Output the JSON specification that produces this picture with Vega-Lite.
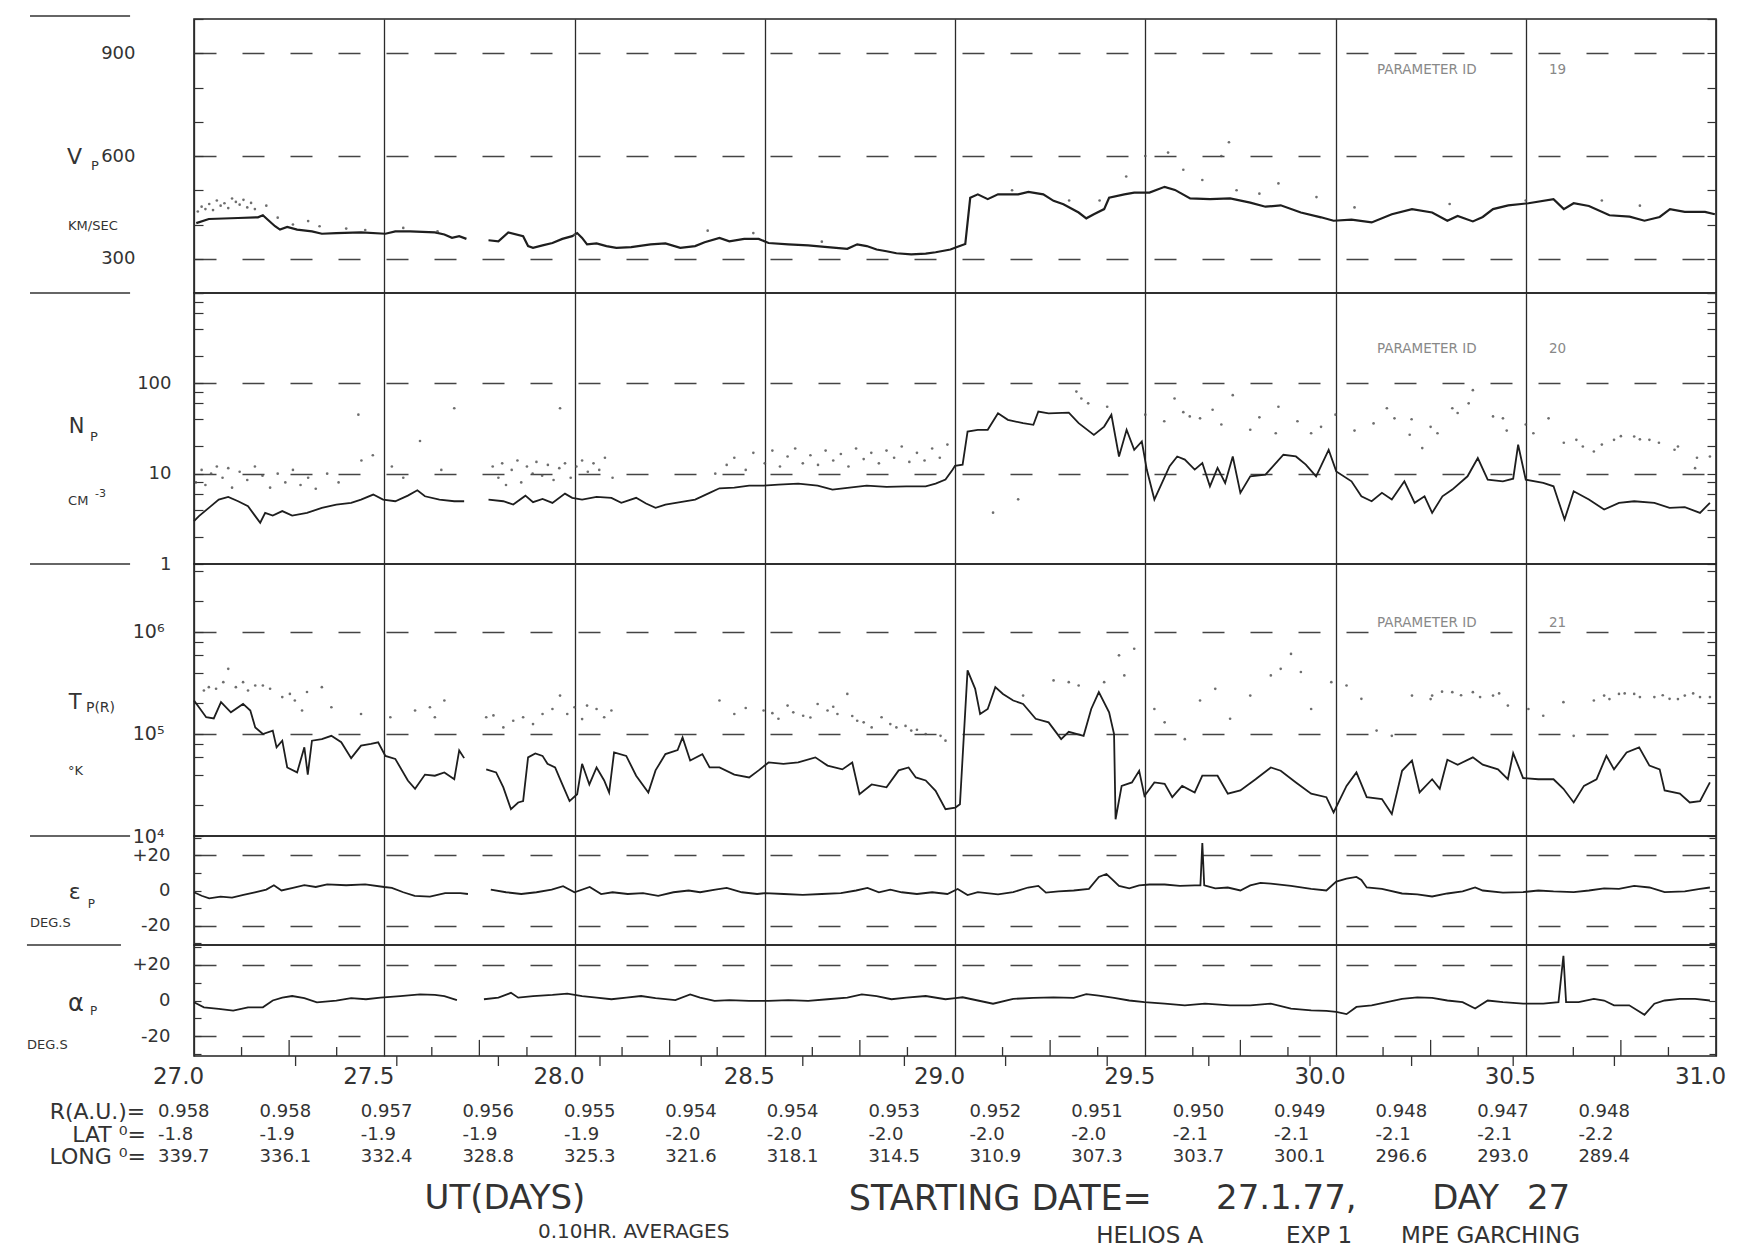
{
"$schema": "https://vega.github.io/schema/vega-lite/v6.json",
"padding": {"left": 25, "top": 9, "right": 0, "bottom": 0},
"background": "white",
"spacing": 0,
"bounds": "flush",
"datasets": {
"vp_line": [{"d":27.006,"v":404},{"d":27.039,"v":416},{"d":27.116,"v":419},{"d":27.168,"v":421},{"d":27.181,"v":427},{"d":27.194,"v":414},{"d":27.213,"v":395},{"d":27.226,"v":385},{"d":27.245,"v":393},{"d":27.271,"v":385},{"d":27.31,"v":380},{"d":27.336,"v":373},{"d":27.374,"v":375},{"d":27.439,"v":377},{"d":27.503,"v":373},{"d":27.529,"v":380},{"d":27.568,"v":380},{"d":27.633,"v":377},{"d":27.658,"v":371},{"d":27.678,"v":361},{"d":27.697,"v":366},{"d":27.716,"v":358},{"d":27.745,"v":null},{"d":27.774,"v":354},{"d":27.8,"v":351},{"d":27.826,"v":377},{"d":27.865,"v":366},{"d":27.878,"v":337},{"d":27.891,"v":332},{"d":27.916,"v":339},{"d":27.942,"v":346},{"d":27.968,"v":358},{"d":27.994,"v":366},{"d":28.007,"v":375},{"d":28.02,"v":361},{"d":28.033,"v":342},{"d":28.058,"v":345},{"d":28.084,"v":337},{"d":28.11,"v":332},{"d":28.149,"v":334},{"d":28.2,"v":342},{"d":28.239,"v":345},{"d":28.278,"v":332},{"d":28.317,"v":337},{"d":28.342,"v":348},{"d":28.381,"v":361},{"d":28.407,"v":351},{"d":28.446,"v":358},{"d":28.484,"v":358},{"d":28.51,"v":346},{"d":28.562,"v":342},{"d":28.614,"v":339},{"d":28.665,"v":334},{"d":28.717,"v":329},{"d":28.743,"v":342},{"d":28.768,"v":337},{"d":28.794,"v":327},{"d":28.82,"v":322},{"d":28.846,"v":316},{"d":28.885,"v":313},{"d":28.923,"v":315},{"d":28.949,"v":319},{"d":28.988,"v":327},{"d":29.007,"v":335},{"d":29.027,"v":343},{"d":29.04,"v":478},{"d":29.06,"v":488},{"d":29.086,"v":474},{"d":29.113,"v":488},{"d":29.166,"v":488},{"d":29.193,"v":495},{"d":29.232,"v":488},{"d":29.259,"v":469},{"d":29.285,"v":459},{"d":29.325,"v":435},{"d":29.345,"v":418},{"d":29.365,"v":430},{"d":29.392,"v":445},{"d":29.405,"v":478},{"d":29.445,"v":488},{"d":29.471,"v":493},{"d":29.511,"v":493},{"d":29.551,"v":510},{"d":29.578,"v":501},{"d":29.618,"v":476},{"d":29.67,"v":474},{"d":29.723,"v":476},{"d":29.776,"v":464},{"d":29.816,"v":452},{"d":29.856,"v":456},{"d":29.909,"v":435},{"d":29.962,"v":421},{"d":29.995,"v":411},{"d":30.042,"v":414},{"d":30.095,"v":406},{"d":30.148,"v":430},{"d":30.201,"v":445},{"d":30.254,"v":435},{"d":30.294,"v":411},{"d":30.321,"v":425},{"d":30.361,"v":409},{"d":30.387,"v":422},{"d":30.414,"v":445},{"d":30.454,"v":456},{"d":30.507,"v":462},{"d":30.573,"v":474},{"d":30.6,"v":445},{"d":30.626,"v":462},{"d":30.666,"v":454},{"d":30.72,"v":427},{"d":30.773,"v":423},{"d":30.812,"v":411},{"d":30.852,"v":422},{"d":30.879,"v":445},{"d":30.918,"v":437},{"d":30.971,"v":437},{"d":30.997,"v":430}],
"vp_dots": [{"d":27.01,"v":438},{"d":27.02,"v":452},{"d":27.03,"v":445},{"d":27.04,"v":460},{"d":27.05,"v":442},{"d":27.06,"v":470},{"d":27.07,"v":455},{"d":27.08,"v":462},{"d":27.09,"v":448},{"d":27.1,"v":476},{"d":27.11,"v":466},{"d":27.12,"v":458},{"d":27.13,"v":472},{"d":27.14,"v":450},{"d":27.15,"v":463},{"d":27.16,"v":445},{"d":27.19,"v":455},{"d":27.22,"v":420},{"d":27.26,"v":400},{"d":27.3,"v":410},{"d":27.33,"v":395},{"d":27.4,"v":388},{"d":27.45,"v":384},{"d":27.55,"v":390},{"d":27.64,"v":380},{"d":28.0,"v":370},{"d":28.35,"v":382},{"d":28.47,"v":375},{"d":28.65,"v":350},{"d":29.15,"v":500},{"d":29.3,"v":470},{"d":29.38,"v":470},{"d":29.45,"v":540},{"d":29.5,"v":600},{"d":29.56,"v":610},{"d":29.6,"v":560},{"d":29.65,"v":530},{"d":29.7,"v":600},{"d":29.72,"v":640},{"d":29.74,"v":500},{"d":29.8,"v":490},{"d":29.85,"v":520},{"d":29.95,"v":480},{"d":30.05,"v":450},{"d":30.3,"v":460},{"d":30.5,"v":470},{"d":30.7,"v":470},{"d":30.8,"v":455}],
"np_line": [{"d":27.0,"v":2.98},{"d":27.013,"v":3.39},{"d":27.039,"v":4.18},{"d":27.065,"v":5.16},{"d":27.09,"v":5.53},{"d":27.116,"v":4.95},{"d":27.142,"v":4.36},{"d":27.161,"v":3.39},{"d":27.174,"v":2.86},{"d":27.187,"v":3.68},{"d":27.207,"v":3.44},{"d":27.232,"v":3.85},{"d":27.258,"v":3.44},{"d":27.297,"v":3.68},{"d":27.336,"v":4.18},{"d":27.374,"v":4.55},{"d":27.413,"v":4.75},{"d":27.439,"v":5.16},{"d":27.471,"v":5.87},{"d":27.497,"v":5.16},{"d":27.529,"v":4.95},{"d":27.562,"v":5.71},{"d":27.587,"v":6.55},{"d":27.607,"v":5.62},{"d":27.645,"v":5.16},{"d":27.684,"v":4.95},{"d":27.71,"v":4.95},{"d":27.74,"v":null},{"d":27.774,"v":5.16},{"d":27.813,"v":4.95},{"d":27.839,"v":4.55},{"d":27.871,"v":5.71},{"d":27.891,"v":4.83},{"d":27.916,"v":5.26},{"d":27.942,"v":4.75},{"d":27.975,"v":6.01},{"d":27.994,"v":5.4},{"d":28.02,"v":5.16},{"d":28.058,"v":5.53},{"d":28.097,"v":5.4},{"d":28.123,"v":4.75},{"d":28.162,"v":5.4},{"d":28.188,"v":4.67},{"d":28.213,"v":4.18},{"d":28.239,"v":4.55},{"d":28.278,"v":4.83},{"d":28.317,"v":5.16},{"d":28.355,"v":6.12},{"d":28.381,"v":6.89},{"d":28.42,"v":7.02},{"d":28.459,"v":7.38},{"d":28.497,"v":7.38},{"d":28.536,"v":7.57},{"d":28.588,"v":7.76},{"d":28.639,"v":7.38},{"d":28.678,"v":6.67},{"d":28.717,"v":6.95},{"d":28.768,"v":7.38},{"d":28.82,"v":7.13},{"d":28.872,"v":7.25},{"d":28.923,"v":7.25},{"d":28.949,"v":7.76},{"d":28.975,"v":8.59},{"d":28.994,"v":11.1},{"d":29.0,"v":12.2},{"d":29.02,"v":12.6},{"d":29.033,"v":29.3},{"d":29.06,"v":30.6},{"d":29.086,"v":30.6},{"d":29.113,"v":46.6},{"d":29.139,"v":39.4},{"d":29.179,"v":36.2},{"d":29.206,"v":34.7},{"d":29.219,"v":48.7},{"d":29.246,"v":46.6},{"d":29.299,"v":47.4},{"d":29.325,"v":36.2},{"d":29.365,"v":26.9},{"d":29.392,"v":33.2},{"d":29.411,"v":44.8},{"d":29.431,"v":15.5},{"d":29.451,"v":30.6},{"d":29.471,"v":18.4},{"d":29.491,"v":22.7},{"d":29.504,"v":11.1},{"d":29.524,"v":5.17},{"d":29.544,"v":7.89},{"d":29.564,"v":12.1},{"d":29.584,"v":15.5},{"d":29.604,"v":14.3},{"d":29.63,"v":11.1},{"d":29.65,"v":13.1},{"d":29.67,"v":7.24},{"d":29.69,"v":11.6},{"d":29.71,"v":7.89},{"d":29.73,"v":15.5},{"d":29.75,"v":6.13},{"d":29.776,"v":9.35},{"d":29.816,"v":9.75},{"d":29.863,"v":16.2},{"d":29.896,"v":15.5},{"d":29.922,"v":12.6},{"d":29.949,"v":9.35},{"d":29.982,"v":18.4},{"d":30.002,"v":10.6},{"d":30.042,"v":8.23},{"d":30.068,"v":5.62},{"d":30.095,"v":4.95},{"d":30.122,"v":6.13},{"d":30.148,"v":5.17},{"d":30.181,"v":8.23},{"d":30.208,"v":4.75},{"d":30.234,"v":5.62},{"d":30.254,"v":3.68},{"d":30.281,"v":5.62},{"d":30.307,"v":6.67},{"d":30.347,"v":9.35},{"d":30.374,"v":14.9},{"d":30.4,"v":8.59},{"d":30.44,"v":8.23},{"d":30.467,"v":8.8},{"d":30.48,"v":20.9},{"d":30.5,"v":8.59},{"d":30.546,"v":7.89},{"d":30.573,"v":7.24},{"d":30.602,"v":3.11},{"d":30.626,"v":6.38},{"d":30.666,"v":5.17},{"d":30.706,"v":4.01},{"d":30.745,"v":4.75},{"d":30.785,"v":4.95},{"d":30.838,"v":4.75},{"d":30.878,"v":4.18},{"d":30.918,"v":4.26},{"d":30.958,"v":3.68},{"d":30.984,"v":4.75}],
"np_dots": [{"d":27.005,"v":8},{"d":27.02,"v":11},{"d":27.03,"v":7.5},{"d":27.045,"v":10},{"d":27.06,"v":12},{"d":27.075,"v":9},{"d":27.09,"v":11.5},{"d":27.1,"v":7},{"d":27.12,"v":10.5},{"d":27.14,"v":8.5},{"d":27.16,"v":12},{"d":27.18,"v":9.5},{"d":27.2,"v":7},{"d":27.22,"v":10},{"d":27.24,"v":8},{"d":27.26,"v":11},{"d":27.28,"v":7.5},{"d":27.3,"v":9},{"d":27.32,"v":6.8},{"d":27.35,"v":10},{"d":27.38,"v":8},{"d":27.432,"v":45},{"d":27.44,"v":14},{"d":27.47,"v":16},{"d":27.52,"v":12},{"d":27.55,"v":9},{"d":27.594,"v":23},{"d":27.65,"v":11},{"d":27.684,"v":53},{"d":27.785,"v":12},{"d":27.8,"v":9},{"d":27.81,"v":13},{"d":27.82,"v":7.5},{"d":27.835,"v":11},{"d":27.85,"v":14},{"d":27.86,"v":8},{"d":27.875,"v":12},{"d":27.89,"v":10},{"d":27.9,"v":13.5},{"d":27.915,"v":9.5},{"d":27.93,"v":12.5},{"d":27.945,"v":8.5},{"d":27.96,"v":11.5},{"d":27.962,"v":53},{"d":27.975,"v":13},{"d":27.99,"v":9},{"d":28.005,"v":12},{"d":28.02,"v":14},{"d":28.035,"v":10.5},{"d":28.05,"v":13},{"d":28.065,"v":11},{"d":28.08,"v":15},{"d":28.1,"v":9},{"d":28.37,"v":10},{"d":28.4,"v":12.5},{"d":28.42,"v":15},{"d":28.45,"v":11},{"d":28.47,"v":17},{"d":28.5,"v":13},{"d":28.52,"v":18},{"d":28.54,"v":12},{"d":28.56,"v":15.5},{"d":28.58,"v":19},{"d":28.6,"v":13},{"d":28.62,"v":16},{"d":28.64,"v":12.5},{"d":28.66,"v":18},{"d":28.68,"v":14},{"d":28.7,"v":16.5},{"d":28.72,"v":12},{"d":28.74,"v":19},{"d":28.76,"v":14.5},{"d":28.78,"v":17},{"d":28.8,"v":13},{"d":28.82,"v":18},{"d":28.84,"v":15},{"d":28.86,"v":20},{"d":28.88,"v":13.5},{"d":28.9,"v":17},{"d":28.92,"v":14},{"d":28.94,"v":19},{"d":28.96,"v":15},{"d":28.98,"v":21},{"d":29.1,"v":3.7},{"d":29.166,"v":5.2},{"d":29.319,"v":81},{"d":29.332,"v":68},{"d":29.35,"v":60},{"d":29.4,"v":55},{"d":29.5,"v":45},{"d":29.55,"v":38},{"d":29.577,"v":68},{"d":29.6,"v":48},{"d":29.617,"v":43},{"d":29.644,"v":41},{"d":29.677,"v":51},{"d":29.7,"v":35},{"d":29.73,"v":74},{"d":29.776,"v":30.6},{"d":29.8,"v":42},{"d":29.843,"v":28},{"d":29.85,"v":55},{"d":29.9,"v":38},{"d":29.936,"v":28},{"d":29.962,"v":33},{"d":30.0,"v":45},{"d":30.05,"v":30},{"d":30.1,"v":36},{"d":30.135,"v":53},{"d":30.155,"v":41},{"d":30.195,"v":27},{"d":30.2,"v":40},{"d":30.228,"v":19.2},{"d":30.25,"v":33},{"d":30.268,"v":28},{"d":30.307,"v":53},{"d":30.321,"v":47},{"d":30.35,"v":60},{"d":30.361,"v":84},{"d":30.414,"v":43},{"d":30.44,"v":41},{"d":30.45,"v":30},{"d":30.5,"v":35},{"d":30.52,"v":28},{"d":30.56,"v":41},{"d":30.6,"v":22},{"d":30.633,"v":23.7},{"d":30.65,"v":20},{"d":30.679,"v":17.6},{"d":30.7,"v":21},{"d":30.732,"v":23.7},{"d":30.75,"v":26},{"d":30.785,"v":25.8},{"d":30.8,"v":24},{"d":30.825,"v":23.7},{"d":30.85,"v":22},{"d":30.891,"v":18.4},{"d":30.9,"v":20},{"d":30.945,"v":11.5},{"d":30.95,"v":15},{"d":30.984,"v":15.5}],
"tp_line": [{"d":27.0,"v":2.13e5},{"d":27.013,"v":1.83e5},{"d":27.032,"v":1.46e5},{"d":27.052,"v":1.42e5},{"d":27.071,"v":2.05e5},{"d":27.097,"v":1.63e5},{"d":27.129,"v":1.97e5},{"d":27.148,"v":1.7e5},{"d":27.161,"v":1.16e5},{"d":27.181,"v":1.0e5},{"d":27.207,"v":1.08e5},{"d":27.217,"v":7.4e4},{"d":27.232,"v":8.6e4},{"d":27.245,"v":4.7e4},{"d":27.271,"v":4.2e4},{"d":27.29,"v":7.4e4},{"d":27.299,"v":4.0e4},{"d":27.31,"v":8.6e4},{"d":27.336,"v":8.9e4},{"d":27.361,"v":9.6e4},{"d":27.387,"v":8.3e4},{"d":27.413,"v":5.8e4},{"d":27.439,"v":7.7e4},{"d":27.465,"v":8.0e4},{"d":27.484,"v":8.3e4},{"d":27.503,"v":6.1e4},{"d":27.529,"v":5.7e4},{"d":27.562,"v":3.5e4},{"d":27.581,"v":2.9e4},{"d":27.607,"v":4.0e4},{"d":27.633,"v":3.9e4},{"d":27.658,"v":4.2e4},{"d":27.684,"v":3.6e4},{"d":27.697,"v":6.9e4},{"d":27.71,"v":5.8e4},{"d":27.74,"v":null},{"d":27.768,"v":4.5e4},{"d":27.794,"v":4.2e4},{"d":27.813,"v":3.0e4},{"d":27.833,"v":1.83e4},{"d":27.852,"v":2.13e4},{"d":27.865,"v":2.2e4},{"d":27.878,"v":5.9e4},{"d":27.897,"v":6.45e4},{"d":27.916,"v":6.1e4},{"d":27.929,"v":5.1e4},{"d":27.949,"v":4.7e4},{"d":27.968,"v":3.2e4},{"d":27.987,"v":2.2e4},{"d":28.007,"v":2.57e4},{"d":28.02,"v":5.1e4},{"d":28.039,"v":3.2e4},{"d":28.058,"v":4.7e4},{"d":28.078,"v":3.5e4},{"d":28.091,"v":2.67e4},{"d":28.104,"v":6.6e4},{"d":28.136,"v":6.1e4},{"d":28.162,"v":3.9e4},{"d":28.194,"v":2.67e4},{"d":28.213,"v":4.4e4},{"d":28.239,"v":6.35e4},{"d":28.271,"v":6.96e4},{"d":28.284,"v":9.27e4},{"d":28.304,"v":5.5e4},{"d":28.336,"v":6.35e4},{"d":28.355,"v":4.7e4},{"d":28.381,"v":4.7e4},{"d":28.42,"v":4.0e4},{"d":28.459,"v":3.75e4},{"d":28.484,"v":4.4e4},{"d":28.51,"v":5.26e4},{"d":28.549,"v":5.1e4},{"d":28.588,"v":5.26e4},{"d":28.633,"v":5.9e4},{"d":28.665,"v":4.9e4},{"d":28.704,"v":4.5e4},{"d":28.73,"v":5.26e4},{"d":28.749,"v":2.57e4},{"d":28.781,"v":3.2e4},{"d":28.82,"v":3.0e4},{"d":28.852,"v":4.4e4},{"d":28.878,"v":4.7e4},{"d":28.897,"v":3.75e4},{"d":28.923,"v":3.5e4},{"d":28.949,"v":2.77e4},{"d":28.975,"v":1.83e4},{"d":29.001,"v":1.9e4},{"d":29.013,"v":2.05e4},{"d":29.033,"v":4.2e5},{"d":29.053,"v":2.77e5},{"d":29.066,"v":1.57e5},{"d":29.086,"v":1.76e5},{"d":29.106,"v":2.88e5},{"d":29.126,"v":2.47e5},{"d":29.153,"v":2.13e5},{"d":29.179,"v":1.97e5},{"d":29.212,"v":1.41e5},{"d":29.246,"v":1.3e5},{"d":29.279,"v":8.9e4},{"d":29.299,"v":1.05e5},{"d":29.338,"v":9.6e4},{"d":29.358,"v":1.76e5},{"d":29.378,"v":2.57e5},{"d":29.405,"v":1.63e5},{"d":29.418,"v":1.0e5},{"d":29.422,"v":1.46e4},{"d":29.438,"v":3.1e4},{"d":29.465,"v":3.35e4},{"d":29.484,"v":4.36e4},{"d":29.498,"v":2.47e4},{"d":29.524,"v":3.35e4},{"d":29.551,"v":3.25e4},{"d":29.571,"v":2.4e4},{"d":29.597,"v":3.1e4},{"d":29.63,"v":2.67e4},{"d":29.65,"v":3.9e4},{"d":29.69,"v":3.9e4},{"d":29.717,"v":2.6e4},{"d":29.75,"v":2.8e4},{"d":29.79,"v":3.6e4},{"d":29.83,"v":4.7e4},{"d":29.856,"v":4.36e4},{"d":29.896,"v":3.35e4},{"d":29.936,"v":2.6e4},{"d":29.976,"v":2.4e4},{"d":29.995,"v":1.7e4},{"d":30.029,"v":3.1e4},{"d":30.055,"v":4.2e4},{"d":30.082,"v":2.4e4},{"d":30.122,"v":2.3e4},{"d":30.148,"v":1.64e4},{"d":30.175,"v":4.36e4},{"d":30.201,"v":5.5e4},{"d":30.221,"v":2.67e4},{"d":30.254,"v":3.6e4},{"d":30.274,"v":2.9e4},{"d":30.294,"v":5.6e4},{"d":30.321,"v":5.0e4},{"d":30.361,"v":5.9e4},{"d":30.387,"v":5.0e4},{"d":30.427,"v":4.5e4},{"d":30.453,"v":3.6e4},{"d":30.467,"v":6.5e4},{"d":30.493,"v":3.7e4},{"d":30.533,"v":3.6e4},{"d":30.573,"v":3.6e4},{"d":30.599,"v":2.9e4},{"d":30.626,"v":2.13e4},{"d":30.653,"v":3.1e4},{"d":30.686,"v":3.6e4},{"d":30.712,"v":6.1e4},{"d":30.732,"v":4.5e4},{"d":30.765,"v":6.6e4},{"d":30.798,"v":7.4e4},{"d":30.825,"v":4.9e4},{"d":30.852,"v":4.5e4},{"d":30.865,"v":2.8e4},{"d":30.905,"v":2.6e4},{"d":30.931,"v":2.13e4},{"d":30.958,"v":2.2e4},{"d":30.984,"v":3.35e4}],
"tp_dots": [{"d":27.026,"v":2.67e5},{"d":27.039,"v":2.88e5},{"d":27.058,"v":2.78e5},{"d":27.077,"v":3.22e5},{"d":27.09,"v":4.35e5},{"d":27.11,"v":2.88e5},{"d":27.129,"v":3.22e5},{"d":27.142,"v":2.67e5},{"d":27.161,"v":2.99e5},{"d":27.181,"v":2.99e5},{"d":27.2,"v":2.78e5},{"d":27.232,"v":2.3e5},{"d":27.252,"v":2.47e5},{"d":27.265,"v":2.13e5},{"d":27.284,"v":1.7e5},{"d":27.297,"v":2.58e5},{"d":27.336,"v":2.88e5},{"d":27.361,"v":1.83e5},{"d":27.439,"v":1.57e5},{"d":27.516,"v":1.46e5},{"d":27.581,"v":1.7e5},{"d":27.62,"v":1.83e5},{"d":27.633,"v":1.46e5},{"d":27.658,"v":2.13e5},{"d":27.768,"v":1.46e5},{"d":27.787,"v":1.52e5},{"d":27.813,"v":1.16e5},{"d":27.839,"v":1.35e5},{"d":27.865,"v":1.46e5},{"d":27.891,"v":1.25e5},{"d":27.916,"v":1.57e5},{"d":27.942,"v":1.76e5},{"d":27.962,"v":2.38e5},{"d":27.981,"v":1.57e5},{"d":28.0,"v":1.83e5},{"d":28.02,"v":1.4e5},{"d":28.033,"v":1.9e5},{"d":28.058,"v":1.76e5},{"d":28.078,"v":1.46e5},{"d":28.097,"v":1.7e5},{"d":28.381,"v":2.13e5},{"d":28.42,"v":1.57e5},{"d":28.45,"v":1.8e5},{"d":28.497,"v":1.7e5},{"d":28.52,"v":1.6e5},{"d":28.536,"v":1.41e5},{"d":28.56,"v":1.9e5},{"d":28.575,"v":1.63e5},{"d":28.601,"v":1.51e5},{"d":28.62,"v":1.45e5},{"d":28.639,"v":1.97e5},{"d":28.665,"v":1.7e5},{"d":28.68,"v":1.85e5},{"d":28.691,"v":1.57e5},{"d":28.717,"v":2.47e5},{"d":28.73,"v":1.5e5},{"d":28.743,"v":1.35e5},{"d":28.76,"v":1.3e5},{"d":28.781,"v":1.16e5},{"d":28.807,"v":1.46e5},{"d":28.83,"v":1.25e5},{"d":28.846,"v":1.16e5},{"d":28.87,"v":1.2e5},{"d":28.885,"v":1.08e5},{"d":28.9,"v":1.1e5},{"d":28.923,"v":1.0e5},{"d":28.962,"v":9.6e4},{"d":28.975,"v":8.6e4},{"d":29.179,"v":2.38e5},{"d":29.259,"v":3.35e5},{"d":29.299,"v":3.22e5},{"d":29.325,"v":2.99e5},{"d":29.392,"v":3.22e5},{"d":29.431,"v":5.9e5},{"d":29.445,"v":3.75e5},{"d":29.471,"v":6.85e5},{"d":29.524,"v":1.76e5},{"d":29.551,"v":1.3e5},{"d":29.604,"v":8.9e4},{"d":29.644,"v":2.13e5},{"d":29.684,"v":2.77e5},{"d":29.723,"v":1.41e5},{"d":29.776,"v":2.38e5},{"d":29.83,"v":3.75e5},{"d":29.856,"v":4.35e5},{"d":29.883,"v":6.1e5},{"d":29.909,"v":4.05e5},{"d":29.936,"v":1.76e5},{"d":29.989,"v":3.22e5},{"d":30.029,"v":2.99e5},{"d":30.068,"v":2.21e5},{"d":30.108,"v":1.08e5},{"d":30.148,"v":9.6e4},{"d":30.201,"v":2.38e5},{"d":30.25,"v":2.2e5},{"d":30.254,"v":2.38e5},{"d":30.28,"v":2.6e5},{"d":30.307,"v":2.57e5},{"d":30.33,"v":2.4e5},{"d":30.361,"v":2.57e5},{"d":30.38,"v":2.3e5},{"d":30.414,"v":2.38e5},{"d":30.43,"v":2.5e5},{"d":30.453,"v":1.9e5},{"d":30.507,"v":1.76e5},{"d":30.546,"v":1.51e5},{"d":30.599,"v":2.05e5},{"d":30.626,"v":9.6e4},{"d":30.679,"v":2.13e5},{"d":30.706,"v":2.38e5},{"d":30.72,"v":2.2e5},{"d":30.745,"v":2.47e5},{"d":30.76,"v":2.5e5},{"d":30.785,"v":2.47e5},{"d":30.8,"v":2.3e5},{"d":30.838,"v":2.3e5},{"d":30.86,"v":2.4e5},{"d":30.878,"v":2.21e5},{"d":30.9,"v":2.2e5},{"d":30.918,"v":2.38e5},{"d":30.94,"v":2.5e5},{"d":30.958,"v":2.3e5},{"d":30.984,"v":2.3e5}],
"ep_line": [{"d":27.0,"v":-1},{"d":27.02,"v":-3},{"d":27.04,"v":-4.5},{"d":27.07,"v":-3.5},{"d":27.1,"v":-4},{"d":27.13,"v":-2.5},{"d":27.16,"v":-1},{"d":27.19,"v":0.5},{"d":27.21,"v":3},{"d":27.23,"v":0},{"d":27.26,"v":1.5},{"d":27.29,"v":3},{"d":27.32,"v":2},{"d":27.35,"v":3.5},{"d":27.4,"v":3},{"d":27.45,"v":3.5},{"d":27.5,"v":2},{"d":27.52,"v":1.5},{"d":27.55,"v":-1},{"d":27.58,"v":-3},{"d":27.62,"v":-3.5},{"d":27.66,"v":-1.5},{"d":27.7,"v":-1.5},{"d":27.72,"v":-2},{"d":27.75,"v":null},{"d":27.78,"v":0.5},{"d":27.82,"v":-1},{"d":27.86,"v":-2},{"d":27.9,"v":-1},{"d":27.94,"v":0.5},{"d":27.97,"v":2.5},{"d":28.0,"v":-1},{"d":28.04,"v":2},{"d":28.07,"v":-2},{"d":28.1,"v":-1},{"d":28.14,"v":-2},{"d":28.18,"v":-1.5},{"d":28.22,"v":-3},{"d":28.26,"v":-1},{"d":28.3,"v":0},{"d":28.33,"v":-1},{"d":28.37,"v":0.5},{"d":28.4,"v":1.5},{"d":28.44,"v":-1},{"d":28.48,"v":-2},{"d":28.5,"v":-1.5},{"d":28.55,"v":-2},{"d":28.6,"v":-2.5},{"d":28.65,"v":-2},{"d":28.7,"v":-1.5},{"d":28.74,"v":0},{"d":28.77,"v":1.5},{"d":28.8,"v":-1},{"d":28.83,"v":0.5},{"d":28.86,"v":-1},{"d":28.9,"v":-2},{"d":28.94,"v":-1},{"d":28.98,"v":-2},{"d":29.007,"v":0.9},{"d":29.033,"v":-2.6},{"d":29.06,"v":-0.9},{"d":29.113,"v":-2.2},{"d":29.153,"v":-0.9},{"d":29.192,"v":1.7},{"d":29.219,"v":2.6},{"d":29.239,"v":-1.2},{"d":29.272,"v":-0.5},{"d":29.312,"v":0},{"d":29.352,"v":0.9},{"d":29.378,"v":7.7},{"d":29.398,"v":9.4},{"d":29.411,"v":6.8},{"d":29.431,"v":2.6},{"d":29.458,"v":1.2},{"d":29.484,"v":2.9},{"d":29.511,"v":3.4},{"d":29.551,"v":3.4},{"d":29.591,"v":2.6},{"d":29.63,"v":2.9},{"d":29.645,"v":2.9},{"d":29.65,"v":27},{"d":29.655,"v":2.9},{"d":29.684,"v":1.2},{"d":29.717,"v":1.7},{"d":29.75,"v":0},{"d":29.776,"v":2.9},{"d":29.803,"v":4.3},{"d":29.83,"v":3.9},{"d":29.883,"v":2.6},{"d":29.936,"v":0.9},{"d":29.976,"v":0},{"d":30.002,"v":5.1},{"d":30.029,"v":6.8},{"d":30.055,"v":7.7},{"d":30.068,"v":6.0},{"d":30.082,"v":1.7},{"d":30.122,"v":0.9},{"d":30.175,"v":-1.7},{"d":30.215,"v":-2.2},{"d":30.254,"v":-3.4},{"d":30.294,"v":-1.7},{"d":30.334,"v":-0.5},{"d":30.367,"v":1.7},{"d":30.387,"v":0},{"d":30.44,"v":-1.2},{"d":30.493,"v":-0.9},{"d":30.533,"v":0},{"d":30.573,"v":-0.5},{"d":30.626,"v":-0.9},{"d":30.666,"v":0},{"d":30.706,"v":1.2},{"d":30.745,"v":0.9},{"d":30.785,"v":2.6},{"d":30.825,"v":1.7},{"d":30.865,"v":-0.9},{"d":30.918,"v":-0.5},{"d":30.958,"v":0.9},{"d":30.984,"v":1.7}],
"ap_line": [{"d":27.0,"v":-1},{"d":27.026,"v":-3.8},{"d":27.065,"v":-4.7},{"d":27.103,"v":-5.6},{"d":27.142,"v":-3.8},{"d":27.181,"v":-3.8},{"d":27.207,"v":0},{"d":27.232,"v":1.6},{"d":27.258,"v":2.5},{"d":27.29,"v":1.3},{"d":27.323,"v":-1},{"d":27.374,"v":-0.1},{"d":27.413,"v":1.3},{"d":27.452,"v":0.7},{"d":27.49,"v":1.6},{"d":27.542,"v":2.5},{"d":27.594,"v":3.4},{"d":27.633,"v":3.1},{"d":27.658,"v":2.5},{"d":27.691,"v":0.2},{"d":27.725,"v":null},{"d":27.762,"v":0.7},{"d":27.8,"v":1.6},{"d":27.833,"v":4.3},{"d":27.852,"v":1.6},{"d":27.891,"v":2.5},{"d":27.942,"v":3.1},{"d":27.981,"v":3.8},{"d":28.02,"v":2.5},{"d":28.058,"v":1.6},{"d":28.097,"v":0.7},{"d":28.136,"v":1.6},{"d":28.175,"v":2.5},{"d":28.213,"v":1.3},{"d":28.265,"v":0.2},{"d":28.304,"v":3.4},{"d":28.33,"v":1.6},{"d":28.368,"v":-0.2},{"d":28.407,"v":0.2},{"d":28.459,"v":-0.2},{"d":28.51,"v":-0.2},{"d":28.562,"v":0.2},{"d":28.614,"v":-0.2},{"d":28.665,"v":0.7},{"d":28.717,"v":1.6},{"d":28.755,"v":3.4},{"d":28.794,"v":2.5},{"d":28.833,"v":0.7},{"d":28.872,"v":1.6},{"d":28.923,"v":2.5},{"d":28.975,"v":0.7},{"d":29.001,"v":1.3},{"d":29.02,"v":1.8},{"d":29.06,"v":0},{"d":29.1,"v":-1.8},{"d":29.153,"v":0.9},{"d":29.206,"v":1.5},{"d":29.259,"v":1.8},{"d":29.312,"v":1.5},{"d":29.345,"v":3.6},{"d":29.378,"v":2.7},{"d":29.418,"v":1.5},{"d":29.458,"v":0},{"d":29.498,"v":-0.9},{"d":29.551,"v":-1.8},{"d":29.604,"v":-2.7},{"d":29.657,"v":-1.8},{"d":29.723,"v":-2.7},{"d":29.776,"v":-2.7},{"d":29.83,"v":-1.8},{"d":29.883,"v":-4.5},{"d":29.936,"v":-5.5},{"d":29.976,"v":-5.8},{"d":30.002,"v":-6.4},{"d":30.029,"v":-7.6},{"d":30.055,"v":-3.6},{"d":30.095,"v":-2.7},{"d":30.135,"v":-0.9},{"d":30.175,"v":0.9},{"d":30.215,"v":1.8},{"d":30.254,"v":1.5},{"d":30.294,"v":0},{"d":30.334,"v":-0.9},{"d":30.367,"v":-4.5},{"d":30.4,"v":0},{"d":30.44,"v":-0.9},{"d":30.493,"v":-1.8},{"d":30.546,"v":-1.8},{"d":30.586,"v":-0.9},{"d":30.599,"v":25},{"d":30.606,"v":-0.9},{"d":30.639,"v":-0.9},{"d":30.679,"v":0.9},{"d":30.706,"v":0},{"d":30.732,"v":-2.7},{"d":30.772,"v":-2.7},{"d":30.812,"v":-8},{"d":30.838,"v":-1.8},{"d":30.865,"v":0},{"d":30.905,"v":0.9},{"d":30.945,"v":0.9},{"d":30.984,"v":0}],
"ticks_short": [{"d":27.125},{"d":27.375},{"d":27.625},{"d":27.875},{"d":28.125},{"d":28.375},{"d":28.625},{"d":28.875},{"d":29.125},{"d":29.375},{"d":29.625},{"d":29.875},{"d":30.125},{"d":30.375},{"d":30.625},{"d":30.875}],
"ticks_long": [{"d":27.25},{"d":27.75},{"d":28.25},{"d":28.75},{"d":29.25},{"d":29.75},{"d":30.25},{"d":30.75}],
"ticks_down": [{"d":27.267},{"d":27.533},{"d":27.8},{"d":28.067},{"d":28.333},{"d":28.6},{"d":28.867},{"d":29.133},{"d":29.4},{"d":29.667},{"d":29.933},{"d":30.2},{"d":30.467},{"d":30.733}],
"table": [
{"d":27.0,"row":1,"t":"0.958"},{"d":27.267,"row":1,"t":"0.958"},{"d":27.533,"row":1,"t":"0.957"},{"d":27.8,"row":1,"t":"0.956"},{"d":28.067,"row":1,"t":"0.955"},{"d":28.333,"row":1,"t":"0.954"},{"d":28.6,"row":1,"t":"0.954"},{"d":28.867,"row":1,"t":"0.953"},{"d":29.133,"row":1,"t":"0.952"},{"d":29.4,"row":1,"t":"0.951"},{"d":29.667,"row":1,"t":"0.950"},{"d":29.933,"row":1,"t":"0.949"},{"d":30.2,"row":1,"t":"0.948"},{"d":30.467,"row":1,"t":"0.947"},{"d":30.733,"row":1,"t":"0.948"},
{"d":27.0,"row":2,"t":"-1.8"},{"d":27.267,"row":2,"t":"-1.9"},{"d":27.533,"row":2,"t":"-1.9"},{"d":27.8,"row":2,"t":"-1.9"},{"d":28.067,"row":2,"t":"-1.9"},{"d":28.333,"row":2,"t":"-2.0"},{"d":28.6,"row":2,"t":"-2.0"},{"d":28.867,"row":2,"t":"-2.0"},{"d":29.133,"row":2,"t":"-2.0"},{"d":29.4,"row":2,"t":"-2.0"},{"d":29.667,"row":2,"t":"-2.1"},{"d":29.933,"row":2,"t":"-2.1"},{"d":30.2,"row":2,"t":"-2.1"},{"d":30.467,"row":2,"t":"-2.1"},{"d":30.733,"row":2,"t":"-2.2"},
{"d":27.0,"row":3,"t":"339.7"},{"d":27.267,"row":3,"t":"336.1"},{"d":27.533,"row":3,"t":"332.4"},{"d":27.8,"row":3,"t":"328.8"},{"d":28.067,"row":3,"t":"325.3"},{"d":28.333,"row":3,"t":"321.6"},{"d":28.6,"row":3,"t":"318.1"},{"d":28.867,"row":3,"t":"314.5"},{"d":29.133,"row":3,"t":"310.9"},{"d":29.4,"row":3,"t":"307.3"},{"d":29.667,"row":3,"t":"303.7"},{"d":29.933,"row":3,"t":"300.1"},{"d":30.2,"row":3,"t":"296.6"},{"d":30.467,"row":3,"t":"293.0"},{"d":30.733,"row":3,"t":"289.4"}
]
},
"vconcat": [
{
"width": 1522, "height": 274,
"data": {"values": [{}]},
"layer": [
{"data": {"name": "vp_line"}, "mark": {"type": "line", "color": "#1e1e1e", "strokeWidth": 2.2, "invalid": "break-paths-show-domains"}, "encoding": {"x": {"field": "d", "type": "quantitative", "scale": {"domain": [27, 31], "nice": false, "zero": false}, "axis": {"values": [27,27.5,28,28.5,29,29.5,30,30.5,31], "labels": false, "ticks": false, "domain": false, "grid": true, "gridColor": "#2b2b2b", "gridWidth": 1.3, "title": null}}, "y": {"field": "v", "type": "quantitative", "scale": {"domain": [200, 1000], "nice": false, "zero": false}, "axis": {"orient": "left", "values": [200,300,400,500,600,700,800,900,1000], "labelExpr": "datum.value % 300 === 0 ? datum.label : ''", "labelFontSize": 18, "labelPadding": 68, "labelOverlap": false, "tickSize": -9, "grid": true, "gridDash": [22, 26], "gridColor": "#444", "gridWidth": 1.6, "gridOpacity": {"condition": {"test": "datum.value % 300 === 0", "value": 1}, "value": 0}, "domain": false, "title": null}}}},
{"data": {"name": "vp_dots"}, "mark": {"type": "circle", "size": 7, "color": "#555", "opacity": 0.85}, "encoding": {"x": {"field": "d", "type": "quantitative"}, "y": {"field": "v", "type": "quantitative", "axis": {"orient": "right", "values": [200,300,400,500,600,700,800,900,1000], "labels": false, "tickSize": -9, "grid": false, "domain": false, "title": null}}}},
{"mark": {"type": "text", "text": "V", "fontSize": 22, "align": "left", "baseline": "middle"}, "encoding": {"x": {"datum": 26.666, "type": "quantitative"}, "y": {"datum": 597, "type": "quantitative", "axis": null}}},
{"mark": {"type": "text", "text": "P", "fontSize": 13, "align": "left", "baseline": "middle"}, "encoding": {"x": {"datum": 26.729, "type": "quantitative"}, "y": {"datum": 571, "type": "quantitative", "axis": null}}},
{"mark": {"type": "text", "text": "KM/SEC", "fontSize": 13, "align": "left", "baseline": "middle"}, "encoding": {"x": {"datum": 26.669, "type": "quantitative"}, "y": {"datum": 396, "type": "quantitative", "axis": null}}},
{"mark": {"type": "rule", "color": "#333", "strokeWidth": 1.5}, "encoding": {"x": {"datum": 26.569, "type": "quantitative"}, "x2": {"datum": 26.832}, "y": {"datum": 1008.8, "type": "quantitative", "axis": null}}},
{"mark": {"type": "rule", "color": "#333", "strokeWidth": 1.5}, "encoding": {"x": {"datum": 26.569, "type": "quantitative"}, "x2": {"datum": 26.832}, "y": {"datum": 200, "type": "quantitative", "axis": null}}},
{"mark": {"type": "text", "text": "PARAMETER ID", "fontSize": 13.5, "color": "#888", "align": "left", "baseline": "middle"}, "encoding": {"x": {"datum": 30.109, "type": "quantitative"}, "y": {"datum": 850, "type": "quantitative", "axis": null}}},
{"mark": {"type": "text", "text": "19", "fontSize": 13.5, "color": "#888", "align": "left", "baseline": "middle"}, "encoding": {"x": {"datum": 30.561, "type": "quantitative"}, "y": {"datum": 850, "type": "quantitative", "axis": null}}}
],
"resolve": {"axis": {"y": "independent"}}
},
{
"width": 1522, "height": 271,
"data": {"values": [{}]},
"layer": [
{"data": {"name": "np_line"}, "mark": {"type": "line", "color": "#1e1e1e", "strokeWidth": 1.8, "invalid": "break-paths-show-domains"}, "encoding": {"x": {"field": "d", "type": "quantitative", "scale": {"domain": [27, 31], "nice": false, "zero": false}, "axis": {"values": [27,27.5,28,28.5,29,29.5,30,30.5,31], "labels": false, "ticks": false, "domain": false, "grid": true, "gridColor": "#2b2b2b", "gridWidth": 1.3, "title": null}}, "y": {"field": "v", "type": "quantitative", "scale": {"type": "log", "domain": [1, 1000], "nice": false}, "axis": {"orient": "left", "values": [1,2,4,6,8,10,20,40,60,80,100,200,400,600,800,1000], "labelExpr": "datum.value === 1 ? '1' : datum.value === 10 ? '10' : datum.value === 100 ? '100' : ''", "labelFontSize": 18, "labelPadding": 32, "labelOverlap": false, "tickSize": -9, "grid": true, "gridDash": [22, 26], "gridColor": "#444", "gridWidth": 1.6, "gridOpacity": {"condition": {"test": "datum.value === 10 || datum.value === 100", "value": 1}, "value": 0}, "domain": false, "title": null}}}},
{"data": {"name": "np_dots"}, "mark": {"type": "circle", "size": 7, "color": "#555", "opacity": 0.85}, "encoding": {"x": {"field": "d", "type": "quantitative"}, "y": {"field": "v", "type": "quantitative", "axis": {"orient": "right", "values": [1,2,4,6,8,10,20,40,60,80,100,200,400,600,800,1000], "labels": false, "tickSize": -9, "grid": false, "domain": false, "title": null}}}},
{"mark": {"type": "text", "text": "N", "fontSize": 21, "align": "left", "baseline": "middle"}, "encoding": {"x": {"datum": 26.671, "type": "quantitative"}, "y": {"datum": 32.7, "type": "quantitative", "axis": null}}},
{"mark": {"type": "text", "text": "P", "fontSize": 13, "align": "left", "baseline": "middle"}, "encoding": {"x": {"datum": 26.727, "type": "quantitative"}, "y": {"datum": 25.3, "type": "quantitative", "axis": null}}},
{"mark": {"type": "text", "text": "CM", "fontSize": 13, "align": "left", "baseline": "middle"}, "encoding": {"x": {"datum": 26.669, "type": "quantitative"}, "y": {"datum": 4.97, "type": "quantitative", "axis": null}}},
{"mark": {"type": "text", "text": "-3", "fontSize": 11, "align": "left", "baseline": "middle"}, "encoding": {"x": {"datum": 26.74, "type": "quantitative"}, "y": {"datum": 5.93, "type": "quantitative", "axis": null}}},
{"mark": {"type": "rule", "color": "#333", "strokeWidth": 1.5}, "encoding": {"x": {"datum": 26.569, "type": "quantitative"}, "x2": {"datum": 26.832}, "y": {"datum": 1, "type": "quantitative", "axis": null}}},
{"mark": {"type": "text", "text": "PARAMETER ID", "fontSize": 13.5, "color": "#888", "align": "left", "baseline": "middle"}, "encoding": {"x": {"datum": 30.109, "type": "quantitative"}, "y": {"datum": 237.7, "type": "quantitative", "axis": null}}},
{"mark": {"type": "text", "text": "20", "fontSize": 13.5, "color": "#888", "align": "left", "baseline": "middle"}, "encoding": {"x": {"datum": 30.561, "type": "quantitative"}, "y": {"datum": 237.7, "type": "quantitative", "axis": null}}}
],
"resolve": {"axis": {"y": "independent"}}
},
{
"width": 1522, "height": 272,
"data": {"values": [{}]},
"layer": [
{"data": {"name": "tp_line"}, "mark": {"type": "line", "color": "#1e1e1e", "strokeWidth": 1.8, "invalid": "break-paths-show-domains"}, "encoding": {"x": {"field": "d", "type": "quantitative", "scale": {"domain": [27, 31], "nice": false, "zero": false}, "axis": {"values": [27,27.5,28,28.5,29,29.5,30,30.5,31], "labels": false, "ticks": false, "domain": false, "grid": true, "gridColor": "#2b2b2b", "gridWidth": 1.3, "title": null}}, "y": {"field": "v", "type": "quantitative", "scale": {"type": "log", "domain": [10000, 4640000], "nice": false}, "axis": {"orient": "left", "values": [10000,20000,40000,60000,80000,100000,200000,400000,600000,800000,1000000,2000000,4000000], "labelExpr": "datum.value === 1000000 ? '10⁶' : datum.value === 100000 ? '10⁵' : datum.value === 10000 ? '10⁴' : ''", "labelFontSize": 19, "labelPadding": 39, "labelOverlap": false, "tickSize": -9, "grid": true, "gridDash": [22, 26], "gridColor": "#444", "gridWidth": 1.6, "gridOpacity": {"condition": {"test": "datum.value === 1000000 || datum.value === 100000", "value": 1}, "value": 0}, "domain": false, "title": null}}}},
{"data": {"name": "tp_dots"}, "mark": {"type": "circle", "size": 7, "color": "#555", "opacity": 0.85}, "encoding": {"x": {"field": "d", "type": "quantitative"}, "y": {"field": "v", "type": "quantitative", "axis": {"orient": "right", "values": [10000,20000,40000,60000,80000,100000,200000,400000,600000,800000,1000000,2000000,4000000], "labels": false, "tickSize": -9, "grid": false, "domain": false, "title": null}}}},
{"mark": {"type": "text", "text": "T", "fontSize": 21, "align": "left", "baseline": "middle"}, "encoding": {"x": {"datum": 26.671, "type": "quantitative"}, "y": {"datum": 201000, "type": "quantitative", "axis": null}}},
{"mark": {"type": "text", "text": "P(R)", "fontSize": 14, "align": "left", "baseline": "middle"}, "encoding": {"x": {"datum": 26.716, "type": "quantitative"}, "y": {"datum": 180000, "type": "quantitative", "axis": null}}},
{"mark": {"type": "text", "text": "°K", "fontSize": 13, "align": "left", "baseline": "middle"}, "encoding": {"x": {"datum": 26.669, "type": "quantitative"}, "y": {"datum": 43400, "type": "quantitative", "axis": null}}},
{"mark": {"type": "rule", "color": "#333", "strokeWidth": 1.5}, "encoding": {"x": {"datum": 26.569, "type": "quantitative"}, "x2": {"datum": 26.832}, "y": {"datum": 10000, "type": "quantitative", "axis": null}}},
{"mark": {"type": "text", "text": "PARAMETER ID", "fontSize": 13.5, "color": "#888", "align": "left", "baseline": "middle"}, "encoding": {"x": {"datum": 30.109, "type": "quantitative"}, "y": {"datum": 1220000, "type": "quantitative", "axis": null}}},
{"mark": {"type": "text", "text": "21", "fontSize": 13.5, "color": "#888", "align": "left", "baseline": "middle"}, "encoding": {"x": {"datum": 30.561, "type": "quantitative"}, "y": {"datum": 1220000, "type": "quantitative", "axis": null}}}
],
"resolve": {"axis": {"y": "independent"}}
},
{
"width": 1522, "height": 109,
"data": {"values": [{}]},
"layer": [
{"data": {"name": "ep_line"}, "mark": {"type": "line", "color": "#1e1e1e", "strokeWidth": 1.8, "invalid": "break-paths-show-domains"}, "encoding": {"x": {"field": "d", "type": "quantitative", "scale": {"domain": [27, 31], "nice": false, "zero": false}, "axis": {"values": [27,27.5,28,28.5,29,29.5,30,30.5,31], "labels": false, "ticks": false, "domain": false, "grid": true, "gridColor": "#2b2b2b", "gridWidth": 1.3, "title": null}}, "y": {"field": "v", "type": "quantitative", "scale": {"domain": [-31, 31], "nice": false, "zero": false}, "axis": {"orient": "left", "values": [-30,-20,-10,0,10,20,30], "labelExpr": "datum.value === 20 ? '+20' : datum.value === 0 ? '0' : datum.value === -20 ? '-20' : ''", "labelFontSize": 18, "labelPadding": 31, "labelOverlap": false, "tickSize": -7, "grid": true, "gridDash": [22, 26], "gridColor": "#444", "gridWidth": 1.6, "gridOpacity": {"condition": {"test": "datum.value === 20 || datum.value === -20", "value": 1}, "value": 0}, "domain": false, "title": null}}}},
{"mark": {"type": "rule", "color": "#333", "strokeWidth": 1.5}, "encoding": {"x": {"datum": 26.561, "type": "quantitative"}, "x2": {"datum": 26.808}, "y": {"datum": -31, "type": "quantitative", "axis": {"orient": "right", "values": [-30,-20,-10,0,10,20,30], "labels": false, "tickSize": -7, "grid": false, "domain": false, "title": null}}}},
{"mark": {"type": "text", "text": "ε", "fontSize": 22, "align": "left", "baseline": "middle"}, "encoding": {"x": {"datum": 26.671, "type": "quantitative"}, "y": {"datum": -1.1, "type": "quantitative", "axis": null}}},
{"mark": {"type": "text", "text": "P", "fontSize": 12, "align": "left", "baseline": "middle"}, "encoding": {"x": {"datum": 26.721, "type": "quantitative"}, "y": {"datum": -7.4, "type": "quantitative", "axis": null}}},
{"mark": {"type": "text", "text": "DEG.S", "fontSize": 13, "align": "left", "baseline": "middle"}, "encoding": {"x": {"datum": 26.569, "type": "quantitative"}, "y": {"datum": -18.3, "type": "quantitative", "axis": null}}}
],
"resolve": {"axis": {"y": "independent"}}
},
{
"width": 1522, "height": 111,
"data": {"values": [{}]},
"layer": [
{"data": {"name": "ap_line"}, "mark": {"type": "line", "color": "#1e1e1e", "strokeWidth": 1.8, "invalid": "break-paths-show-domains"}, "encoding": {"x": {"field": "d", "type": "quantitative", "scale": {"domain": [27, 31], "nice": false, "zero": false}, "axis": {"values": [27,27.5,28,28.5,29,29.5,30,30.5,31], "labels": true, "format": ".1f", "labelFontSize": 23, "labelPadding": 20, "labelBaseline": "middle", "labelOffset": -16, "labelFlush": false, "labelOverlap": false, "ticks": false, "tickSize": 0, "domain": false, "grid": true, "gridColor": "#2b2b2b", "gridWidth": 1.3, "title": null}}, "y": {"field": "v", "type": "quantitative", "scale": {"domain": [-31, 31], "nice": false, "zero": false}, "axis": {"orient": "left", "values": [-30,-20,-10,0,10,20,30], "labelExpr": "datum.value === 20 ? '+20' : datum.value === 0 ? '0' : datum.value === -20 ? '-20' : ''", "labelFontSize": 18, "labelPadding": 31, "labelOverlap": false, "tickSize": -7, "grid": true, "gridDash": [22, 26], "gridColor": "#444", "gridWidth": 1.6, "gridOpacity": {"condition": {"test": "datum.value === 20 || datum.value === -20", "value": 1}, "value": 0}, "domain": false, "title": null}}}},
{"data": {"name": "ticks_short"}, "mark": {"type": "rule", "color": "#333", "strokeWidth": 1.3}, "encoding": {"x": {"field": "d", "type": "quantitative"}, "y": {"datum": -31, "type": "quantitative", "axis": {"orient": "right", "values": [-30,-20,-10,0,10,20,30], "labels": false, "tickSize": -7, "grid": false, "domain": false, "title": null}}, "y2": {"datum": -26}}},
{"data": {"name": "ticks_long"}, "mark": {"type": "rule", "color": "#333", "strokeWidth": 1.3}, "encoding": {"x": {"field": "d", "type": "quantitative"}, "y": {"datum": -31, "type": "quantitative", "axis": null}, "y2": {"datum": -22}}},
{"data": {"name": "ticks_down"}, "mark": {"type": "rule", "color": "#333", "strokeWidth": 1.3}, "encoding": {"x": {"field": "d", "type": "quantitative"}, "y": {"datum": -31, "type": "quantitative", "axis": null}, "y2": {"datum": -36.6}}},
{"mark": {"type": "text", "text": "α", "fontSize": 24, "align": "left", "baseline": "middle"}, "encoding": {"x": {"datum": 26.669, "type": "quantitative"}, "y": {"datum": -1.7, "type": "quantitative", "axis": null}}},
{"mark": {"type": "text", "text": "P", "fontSize": 12, "align": "left", "baseline": "middle"}, "encoding": {"x": {"datum": 26.727, "type": "quantitative"}, "y": {"datum": -6.1, "type": "quantitative", "axis": null}}},
{"mark": {"type": "text", "text": "DEG.S", "fontSize": 13, "align": "left", "baseline": "middle"}, "encoding": {"x": {"datum": 26.561, "type": "quantitative"}, "y": {"datum": -25, "type": "quantitative", "axis": null}}}
],
"resolve": {"axis": {"y": "independent"}}
},
{
"width": 1522, "height": 225,
"view": {"stroke": null},
"data": {"values": [{}]},
"layer": [
{"data": {"name": "table"}, "mark": {"type": "text", "fontSize": 18, "align": "left", "baseline": "middle", "dx": -36}, "encoding": {"x": {"field": "d", "type": "quantitative", "scale": {"domain": [27, 31], "nice": false, "zero": false}, "axis": null}, "y": {"field": "row", "type": "quantitative", "scale": {"domain": [-1.5, 8.5], "reverse": true, "nice": false, "zero": false}, "axis": null}, "text": {"field": "t"}}},
{"mark": {"type": "text", "text": "R(A.U.)=", "fontSize": 22, "align": "right", "baseline": "middle"}, "encoding": {"x": {"datum": 26.872, "type": "quantitative", "axis": null}, "y": {"datum": 1, "type": "quantitative", "axis": null}}},
{"mark": {"type": "text", "text": "LAT ⁰=", "fontSize": 22, "align": "right", "baseline": "middle"}, "encoding": {"x": {"datum": 26.874, "type": "quantitative", "axis": null}, "y": {"datum": 2, "type": "quantitative", "axis": null}}},
{"mark": {"type": "text", "text": "LONG ⁰=", "fontSize": 22, "align": "right", "baseline": "middle"}, "encoding": {"x": {"datum": 26.874, "type": "quantitative", "axis": null}, "y": {"datum": 3, "type": "quantitative", "axis": null}}},
{"mark": {"type": "text", "text": "UT(DAYS)", "fontSize": 34, "align": "left", "baseline": "middle"}, "encoding": {"x": {"datum": 27.606, "type": "quantitative", "axis": null}, "y": {"datum": 4.86, "type": "quantitative", "axis": null}}},
{"mark": {"type": "text", "text": "STARTING DATE=", "fontSize": 35, "align": "left", "baseline": "middle"}, "encoding": {"x": {"datum": 28.721, "type": "quantitative", "axis": null}, "y": {"datum": 4.86, "type": "quantitative", "axis": null}}},
{"mark": {"type": "text", "text": "27.1.77,", "fontSize": 34, "align": "left", "baseline": "middle"}, "encoding": {"x": {"datum": 29.686, "type": "quantitative", "axis": null}, "y": {"datum": 4.86, "type": "quantitative", "axis": null}}},
{"mark": {"type": "text", "text": "DAY", "fontSize": 34, "align": "left", "baseline": "middle"}, "encoding": {"x": {"datum": 30.254, "type": "quantitative", "axis": null}, "y": {"datum": 4.86, "type": "quantitative", "axis": null}}},
{"mark": {"type": "text", "text": "27", "fontSize": 34, "align": "left", "baseline": "middle"}, "encoding": {"x": {"datum": 30.503, "type": "quantitative", "axis": null}, "y": {"datum": 4.86, "type": "quantitative", "axis": null}}},
{"mark": {"type": "text", "text": "0.10HR. AVERAGES", "fontSize": 20, "align": "left", "baseline": "middle"}, "encoding": {"x": {"datum": 27.904, "type": "quantitative", "axis": null}, "y": {"datum": 6.32, "type": "quantitative", "axis": null}}},
{"mark": {"type": "text", "text": "HELIOS A", "fontSize": 23, "align": "left", "baseline": "middle"}, "encoding": {"x": {"datum": 29.371, "type": "quantitative", "axis": null}, "y": {"datum": 6.5, "type": "quantitative", "axis": null}}},
{"mark": {"type": "text", "text": "EXP 1", "fontSize": 23, "align": "left", "baseline": "middle"}, "encoding": {"x": {"datum": 29.87, "type": "quantitative", "axis": null}, "y": {"datum": 6.5, "type": "quantitative", "axis": null}}},
{"mark": {"type": "text", "text": "MPE GARCHING", "fontSize": 23, "align": "left", "baseline": "middle"}, "encoding": {"x": {"datum": 30.172, "type": "quantitative", "axis": null}, "y": {"datum": 6.5, "type": "quantitative", "axis": null}}}
]
}
],
"config": {
"view": {"stroke": "#222", "strokeWidth": 1.6},
"axis": {"labelFont": "DejaVu Sans", "labelColor": "#333", "tickColor": "#333", "tickWidth": 1.2},
"text": {"font": "DejaVu Sans", "color": "#333"}
}
}
